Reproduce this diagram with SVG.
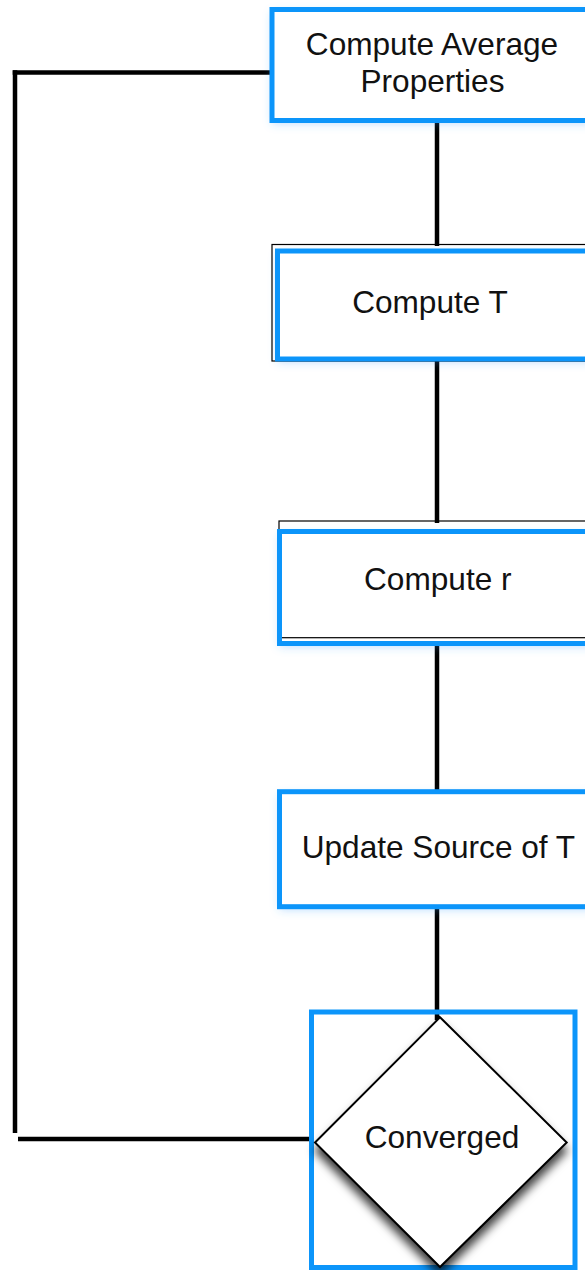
<svg xmlns="http://www.w3.org/2000/svg" width="585" height="1270" viewBox="0 0 585 1270">
  <style>
    .label { font-family: "Liberation Sans", Arial, sans-serif; font-size: 31.6px; fill: #111; text-anchor: middle; }
    .wire { fill: none; stroke: #000; stroke-width: 4.5; stroke-linecap: butt; }
    .frame { fill: none; stroke: #000; stroke-width: 1.2; }
    .halo { fill: #fff; stroke: none; filter: url(#glow); }
    .sel { fill: none; stroke: #0c95fa; stroke-width: 5; }
    .decision { fill: #fff; stroke: #000; stroke-width: 2; filter: url(#drop); }
  </style>
  <defs>
    <filter id="glow" x="-20%" y="-30%" width="140%" height="160%">
      <feDropShadow dx="0" dy="3" stdDeviation="5" flood-color="#3c9dff" flood-opacity="0.35"/>
    </filter>
    <filter id="drop" x="-20%" y="-20%" width="140%" height="150%">
      <feDropShadow dx="0" dy="8" stdDeviation="5" flood-color="#000" flood-opacity="0.75"/>
    </filter>
  </defs>
  <rect width="585" height="1270" fill="#fff"/>

  <g id="connectors">
    <path class="wire" d="M437,120 V246"/>
    <path class="wire" d="M437,358 V523"/>
    <path class="wire" d="M437,640 V792"/>
    <path class="wire" d="M437,906 V1018 H440"/>
    <path class="wire" d="M272,72.5 H12.7"/>
    <path class="wire" d="M15,70.3 V1133"/>
    <path class="wire" d="M311,1139 H18"/>
  </g>

  <g id="compute-average">
    <rect class="halo" x="272" y="9.5" width="320" height="111"/>
    <rect class="sel" x="272" y="9.5" width="320" height="111"/>
    <text class="label" x="432" y="55">Compute Average</text>
    <text class="label" x="432.5" y="92">Properties</text>
  </g>

  <g id="compute-t">
    <rect class="halo" x="277.5" y="251" width="320" height="108"/>
    <rect class="frame" x="272" y="244.5" width="320" height="116.5"/>
    <rect class="sel" x="277.5" y="251" width="320" height="108"/>
    <text class="label" x="430" y="313.3">Compute T</text>
  </g>

  <g id="compute-r">
    <rect class="halo" x="279.5" y="531.5" width="320" height="112"/>
    <rect class="frame" x="279" y="521" width="320" height="116.7"/>
    <rect class="sel" x="279.5" y="531.5" width="320" height="112"/>
    <text class="label" x="437.8" y="590">Compute r</text>
  </g>

  <g id="update-source">
    <rect class="halo" x="279.5" y="791.7" width="320" height="115"/>
    <rect class="sel" x="279.5" y="791.7" width="320" height="115"/>
    <text class="label" x="438.4" y="858.3">Update Source of T</text>
  </g>

  <g id="converged">
    <rect class="sel" x="311.5" y="1012" width="263.5" height="255.5"/>
    <polygon class="decision" points="440,1017.3 566.7,1142.5 440,1267 315,1142.5"/>
    <text class="label" x="442" y="1148.3">Converged</text>
  </g>
</svg>
